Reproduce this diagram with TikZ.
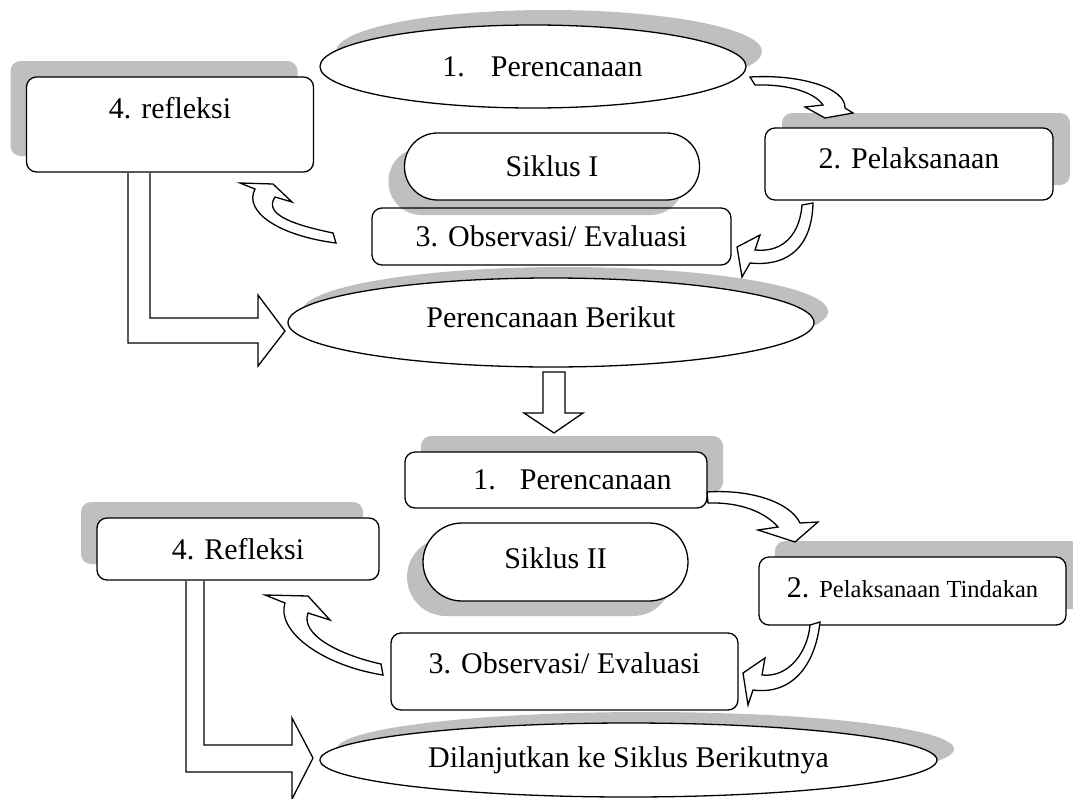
\documentclass[tikz,border=0pt]{standalone}
\usepackage{fontspec}
\setmainfont{Liberation Serif}
\usetikzlibrary{shapes.geometric,shadows}
\definecolor{shadowgray}{HTML}{BFBFBF}

\begin{document}
\begin{tikzpicture}[x=1pt,y=-1pt,line width=1.3pt,
  every node/.style={font=\fontsize{30}{35}\selectfont},
  box/.style={draw,fill=white,rounded corners=10pt,inner sep=3pt},
  oval/.style={draw,fill=white,ellipse,inner sep=2pt},
  pill/.style={draw,fill=white,rounded corners=#1,inner sep=3pt},
  shade/.style 2 args={drop shadow={shadow xshift=#1,shadow yshift=#2,fill=shadowgray,opacity=1}},
  lift/.style={text height=21pt,text depth=#1},
  fat/.style={draw,fill=white,line join=miter}]
\useasboundingbox (0,0) rectangle (1073,798);
% ---------- Siklus I ----------
\node[oval,shade={16pt}{15pt},minimum width=426pt,minimum height=83pt] (plan1) at (533,66.5)
  {\hspace*{19pt}1.\hspace{26pt}Perencanaan};
\node[box,shade={-16pt}{16pt},minimum width=287pt,minimum height=95pt,lift=34pt] (refl1) at (170,124.5) {4. refleksi};
\node[pill=33pt,shade={-16pt}{-15pt},minimum width=295pt,minimum height=67pt] (cyc1) at (552,166.5) {Siklus I};
\node[box,shade={17pt}{15pt},minimum width=288pt,minimum height=72pt,lift=13pt] (act1) at (909,164) {2. Pelaksanaan};
\node[box,fill=none,minimum width=359pt,minimum height=57pt] (obs1) at (551.5,236.5) {3. Observasi/ Evaluasi};
\node[oval,shade={14pt}{11pt},minimum width=526pt,minimum height=89pt,lift=11pt] (next1) at (551,322.5) {Perencanaan Berikut};
% panah lengkung
\draw[fat] (750,77) .. controls (800,74) and (846,88) .. (845,108) -- (853,113) -- (825,118) -- (805,107)
  -- (823,105) .. controls (815,93) and (790,84) .. (755,85) -- cycle;
\draw[fat] (813,203) .. controls (812,245) and (790,267) .. (750,263) -- (742,277) -- (737,247) -- (760,235)
  -- (755,250) .. controls (785,253) and (800,232) .. (802,205) -- cycle;
\draw[fat] (333,233) .. controls (300,226) and (262,216) .. (275,197) -- (292,202) -- (273,184) -- (240,183)
  -- (255,189) .. controls (243,212) and (280,236) .. (336,243) -- cycle;
% panah siku
\draw[fat] (150,173) -- (150,318) -- (258,318) -- (258,295) -- (285,331) -- (258,366) -- (258,343) -- (128,343) -- (128,173);
% panah ke bawah
\draw[fat] (543,372) -- (543,413) -- (524,413) -- (554,433) -- (583,413) -- (565,413) -- (565,372) -- cycle;
% ---------- Siklus II ----------
\node[box,shade={16pt}{16pt},minimum width=302pt,minimum height=56pt] (plan2) at (556,480)
  {\hspace*{33pt}1.\hspace{24pt}Perencanaan};
\node[box,shade={-16pt}{16pt},minimum width=282pt,minimum height=62pt] (refl2) at (238,549) {4. Refleksi};
\node[pill=39pt,shade={-16pt}{-15pt},minimum width=265pt,minimum height=78pt,lift=9pt] (cyc2) at (555.5,562) {Siklus II};
\node[box,shade={16pt}{16pt},minimum width=307pt,minimum height=68pt,lift=9pt] (act2) at (912.5,591)
  {2. {\fontsize{24.5}{30}\selectfont Pelaksanaan Tindakan}};
\node[box,fill=none,minimum width=347pt,minimum height=77pt,lift=17pt] (obs2) at (564.5,671.5) {3. Observasi/ Evaluasi};
\node[oval,shade={17pt}{11pt},minimum width=617pt,minimum height=74pt] (next2) at (628.5,760) {Dilanjutkan ke Siklus Berikutnya};
% panah lengkung
\draw[fat] (707,492) .. controls (750,489) and (790,502) .. (800,523) -- (818,522) -- (795,542) -- (758,530)
  -- (778,527) .. controls (765,512) and (740,502) .. (708,503) -- cycle;
\draw[fat] (820,622) .. controls (815,668) and (790,695) .. (753,690) -- (748,705) -- (743,673) -- (765,658)
  -- (762,675) .. controls (790,678) and (808,650) .. (810,625) -- cycle;
\draw[fat] (381,664) .. controls (340,655) and (300,635) .. (308,613) -- (330,620) -- (308,596) -- (265,595)
  -- (285,603) .. controls (276,630) and (320,665) .. (383,675) -- cycle;
% panah siku
\draw[fat] (204,581) -- (204,745) -- (292,745) -- (292,718) -- (313,758) -- (292,799) -- (292,772) -- (186,772) -- (186,581);
\end{tikzpicture}
\end{document}
